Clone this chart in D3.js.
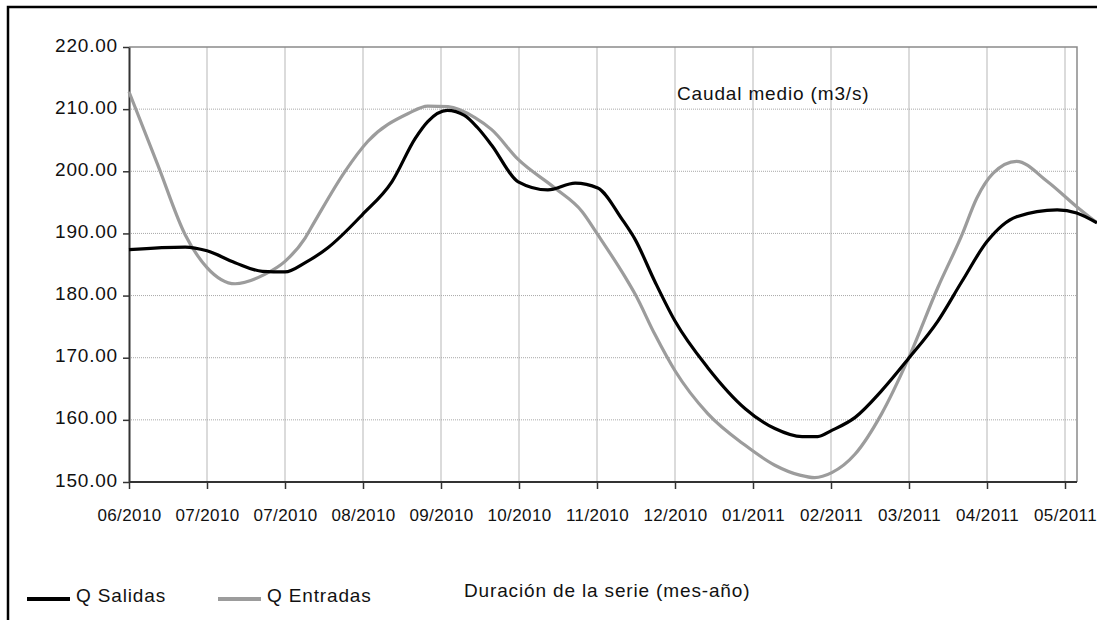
<!DOCTYPE html>
<html>
<head>
<meta charset="utf-8">
<script src="https://d3js.org/d3.v7.min.js"></script>
<style>
    body { margin: 0; background: #fff; }
    svg { display: block; }
    text { font-family: "Liberation Sans", Arial, sans-serif; fill: #111; }
</style>
</head>
<body>
<div id="chart"></div>
<script>
// Tick labels on the x axis (one per vertical grid line)
const monthLabels = ["06/2010", "07/2010", "07/2010", "08/2010", "09/2010", "10/2010", "11/2010",
    "12/2010", "01/2011", "02/2011", "03/2011", "04/2011", "05/2011"];

const yTicks = [150, 160, 170, 180, 190, 200, 210, 220];

// Position along the axis, in tick steps
const salidasX = [0, 0.72, 1.0, 1.36, 1.71, 2.0, 2.26, 2.55, 2.99, 3.37, 3.67, 3.83, 4.08, 4.3, 4.47,
    4.65, 4.99, 5.37, 5.72, 6.01, 6.32, 6.49, 6.74, 7.0, 7.42, 7.9, 8.28, 8.63, 8.83, 9.01, 9.31,
    9.65, 9.99, 10.37, 10.68, 11.0, 11.38, 11.9, 12.15, 12.41];
const salidasY = [187.4, 187.8, 187.2, 185.3, 183.9, 183.8, 185.3, 187.7, 193.0, 198.3, 205.3, 208.0, 209.8, 209.0, 207.0,
    204.2, 198.3, 197.0, 198.1, 197.3, 192.3, 189.0, 182.3, 175.9, 168.4, 161.8, 158.6, 157.3, 157.3, 158.3, 160.4,
    164.7, 169.8, 175.9, 182.3, 188.7, 192.7, 193.8, 193.3, 191.7];

const entradasX = [0, 0.37, 0.72, 1.0, 1.36, 1.74, 2.0, 2.26, 2.38, 2.77, 3.06, 3.58, 3.83, 4.09, 4.44,
    4.65, 4.99, 5.46, 5.81, 6.01, 6.36, 6.49, 6.74, 7.0, 7.42, 7.9, 8.28, 8.6, 8.79, 9.01, 9.31,
    9.65, 9.99, 10.37, 10.68, 10.87, 11.08, 11.38, 11.77, 12.15, 12.41];
const entradasY = [212.8, 201.0, 189.8, 184.5, 181.9, 183.4, 185.5, 189.3, 191.9, 200.0, 204.8, 209.3, 210.5, 210.4, 208.6,
    206.7, 201.9, 197.3, 193.5, 189.8, 183.0, 180.2, 173.8, 167.9, 161.0, 155.9, 152.7, 151.1, 150.7, 151.5, 154.5,
    161.0, 169.8, 181.3, 189.8, 195.7, 199.7, 201.6, 198.4, 194.3, 191.7];

const seriesNames = ["Q Salidas", "Q Entradas"];
const seriesColors = ["#000000", "#9c9c9c"];

let svg, x, y;
const width = 1097, height = 620;
const plot = { left: 129, top: 47, bottom: 482, right: 1077 };

// Build the svg and scales
function init() {
    svg = d3.select("#chart").append("svg")
        .attr("width", width)
        .attr("height", height);

    x = d3.scaleLinear().domain([0, 12]).range([plot.left, 1065]);
    y = d3.scaleLinear().domain([150, 220]).range([plot.bottom, plot.top]);

    drawFrame();
    drawGrid();
    drawAxes();
    drawLines();
    drawTexts();
}

// Outer black frame (only left and top edges are visible in the picture)
function drawFrame() {
    svg.append("path")
        .attr("d", `M8,${height} L8,7 L${width},7`)
        .attr("fill", "none")
        .attr("stroke", "#000")
        .attr("stroke-width", 2.5);
}

function drawGrid() {
    // vertical grid lines on every month tick
    svg.append("g")
        .selectAll("line")
        .data(d3.range(1, monthLabels.length))
        .join("line")
        .attr("x1", d => x(d))
        .attr("x2", d => x(d))
        .attr("y1", plot.top)
        .attr("y2", plot.bottom)
        .attr("stroke", "#cfcfcf")
        .attr("stroke-width", 1.5);

    // dotted horizontal lines
    svg.append("g")
        .selectAll("line")
        .data(yTicks.slice(1, -1))
        .join("line")
        .attr("x1", plot.left)
        .attr("x2", plot.right)
        .attr("y1", d => y(d))
        .attr("y2", d => y(d))
        .attr("stroke", "#a8a8a8")
        .attr("stroke-width", 1)
        .attr("stroke-dasharray", "1,1");

    // top and right border of the plot
    svg.append("path")
        .attr("d", `M${plot.left},${plot.top} L${plot.right},${plot.top} L${plot.right},${plot.bottom}`)
        .attr("fill", "none")
        .attr("stroke", "#8a8a8a")
        .attr("stroke-width", 1.5);
}

function drawAxes() {
    const xAxis = d3.axisBottom(x)
        .tickValues(d3.range(monthLabels.length))
        .tickFormat(i => monthLabels[i])
        .tickSize(7)
        .tickSizeOuter(0);

    const gx = svg.append("g")
        .attr("transform", `translate(0,${plot.bottom})`)
        .call(xAxis);
    gx.select(".domain")
        .attr("d", `M${plot.left},0H${plot.right}`)
        .attr("stroke", "#333")
        .attr("stroke-width", 2);
    gx.selectAll(".tick line").attr("stroke", "#333").attr("stroke-width", 1.5);
    gx.selectAll(".tick text")
        .attr("y", 39)
        .attr("dy", 0)
        .style("font-size", "17px")
        .style("letter-spacing", "0.4px")
        .style("font-family", "'Liberation Sans', Arial, sans-serif")
        .style("fill", "#111");

    const yAxis = d3.axisLeft(y)
        .tickValues(yTicks)
        .tickFormat(d3.format(".2f"))
        .tickSize(6)
        .tickSizeOuter(0);

    const gy = svg.append("g")
        .attr("transform", `translate(${plot.left},0)`)
        .call(yAxis);
    gy.select(".domain")
        .attr("stroke", "#333")
        .attr("stroke-width", 2);
    gy.selectAll(".tick line").attr("stroke", "#333").attr("stroke-width", 1.5);
    gy.selectAll(".tick text")
        .attr("x", -11)
        .attr("dy", 4)
        .style("font-size", "19px")
        .style("letter-spacing", "0.8px")
        .style("font-family", "'Liberation Sans', Arial, sans-serif")
        .style("fill", "#111");
}

function drawLines() {
    const line = d3.line()
        .x(d => x(d[0]))
        .y(d => y(d[1]))
        .curve(d3.curveMonotoneX);

    const series = [
        d3.zip(salidasX, salidasY),
        d3.zip(entradasX, entradasY)
    ];

    // gray drawn first so the black line sits on top, as in the picture
    [1, 0].forEach(i => {
        svg.append("path")
            .datum(series[i])
            .attr("d", line)
            .attr("fill", "none")
            .attr("stroke", seriesColors[i])
            .attr("stroke-width", 3.2)
            .attr("stroke-linejoin", "round");
    });
}

function drawTexts() {
    svg.append("text")
        .attr("x", 677)
        .attr("y", 100)
        .style("font-size", "19px")
        .style("letter-spacing", "0.85px")
        .text("Caudal medio (m3/s)");

    svg.append("text")
        .attr("x", 464)
        .attr("y", 597)
        .style("font-size", "19px")
        .style("letter-spacing", "0.85px")
        .text("Duración de la serie (mes-año)");

    // legend
    const legendX = [27, 218];
    seriesNames.forEach((name, i) => {
        svg.append("line")
            .attr("x1", legendX[i])
            .attr("x2", legendX[i] + 43)
            .attr("y1", 599)
            .attr("y2", 599)
            .attr("stroke", seriesColors[i])
            .attr("stroke-width", 4);
        svg.append("text")
            .attr("x", legendX[i] + 49)
            .attr("y", 602)
            .style("font-size", "19px")
            .style("letter-spacing", "0.85px")
            .text(name);
    });
}

init();
</script>
</body>
</html>
